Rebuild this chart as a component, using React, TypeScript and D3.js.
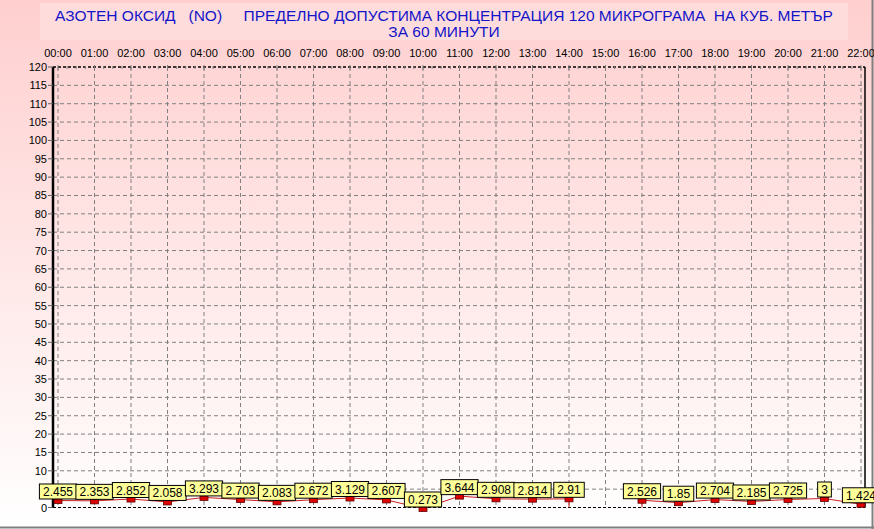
import React from "react";
import * as d3 from "d3";

const hours: number[] = [0, 1, 2, 3, 4, 5, 6, 7, 8, 9, 10, 11, 12, 13, 14, 15, 16, 17, 18, 19, 20, 21, 22];
const hourLabels: string[] = ["00:00","01:00","02:00","03:00","04:00","05:00","06:00","07:00","08:00","09:00","10:00","11:00","12:00","13:00","14:00","15:00","16:00","17:00","18:00","19:00","20:00","21:00","22:00"];
const values: (number | null)[] = [2.455, 2.353, 2.852, 2.058, 3.293, 2.703, 2.083, 2.672, 3.129, 2.607, 0.273, 3.644, 2.908, 2.814, 2.91, null, 2.526, 1.85, 2.704, 2.185, 2.725, 3, 1.424];
const valueLabels: string[] = ["2.455","2.353","2.852","2.058","3.293","2.703","2.083","2.672","3.129","2.607","0.273","3.644","2.908","2.814","2.91","","2.526","1.85","2.704","2.185","2.725","3","1.424"];
const yTicks: number[] = d3.range(0, 121, 5);
const titleLine1 = "АЗОТЕН ОКСИД   (NO)     ПРЕДЕЛНО ДОПУСТИМА КОНЦЕНТРАЦИЯ 120 МИКРОГРАМА  НА КУБ. МЕТЪР";
const titleLine2 = "ЗА 60 МИНУТИ";

const W = 874, H = 529;
const L = 53, R = 865, T = 67, B = 507.5;

function textWidth(s: string) {
  return s.length * 6.7 - (s.split(".").length - 1) * 3.3;
}

export default function App() {
  const x = d3.scaleLinear().domain([0, 22]).range([58, 861]);
  const y = d3.scaleLinear().domain([0, 120]).range([B, T]);
  const pts = hours.map((h, i) => ({ h, v: values[i], lab: valueLabels[i] }));
  const line = d3.line<{ h: number; v: number | null }>()
    .defined(d => d.v !== null)
    .x(d => x(d.h))
    .y(d => y(d.v as number) + 2);
  const minor = d3.range(0, 22.01, 0.25).filter(m => Math.abs(m - Math.round(m)) > 0.01);
  const font = "Arial, 'Liberation Sans', sans-serif";
  return (
    <div style={{ position: "fixed", left: 0, top: 0 }}>
      <svg width={W} height={H} style={{ display: "block" }}>
        <defs>
          <linearGradient id="bg" x1="0" y1="0" x2="0" y2="1">
            <stop offset="0" stopColor="#ffcfcf" />
            <stop offset="1" stopColor="#ffffff" />
          </linearGradient>
        </defs>
        <rect x={0} y={0} width={W} height={H} fill="url(#bg)" />
        <line x1={0} x2={W} y1={H - 1.5} y2={H - 1.5} stroke="#808080" strokeWidth={2} />
        <line x1={W - 1.5} x2={W - 1.5} y1={0} y2={H} stroke="#808080" strokeWidth={2} />
        {/* title */}
        <rect x={40} y={3} width={808} height={37} fill="#ffdcdc" />
        <text x={444} y={21} textAnchor="middle" fontFamily={font} fontSize={15.5} fill="#1414c8" style={{ whiteSpace: "pre" }}>{titleLine1}</text>
        <text x={444} y={37} textAnchor="middle" fontFamily={font} fontSize={15.5} fill="#1414c8">{titleLine2}</text>
        {/* top labels */}
        {hours.map((h, i) => (
          <text key={"xl" + h} x={x(h)} y={57} textAnchor="middle" fontFamily={font} fontSize={11} fill="#000">{hourLabels[i]}</text>
        ))}
        {/* grid */}
        {yTicks.filter(t => t > 0 && t < 120).map(t => (
          <line key={"gy" + t} x1={L} x2={R} y1={y(t)} y2={y(t)} stroke="#808080" strokeDasharray="4,3" />
        ))}
        {hours.map(h => (
          <line key={"gx" + h} x1={x(h)} x2={x(h)} y1={T} y2={B} stroke="#808080" strokeDasharray="4,3" />
        ))}
        {/* borders */}
        <line x1={L} x2={R} y1={T} y2={T} stroke="#000" strokeDasharray="3,2" strokeWidth={1.5} />
        <line x1={L} x2={R} y1={B} y2={B} stroke="#000" strokeDasharray="3,2" />
        <line x1={R} x2={R} y1={T} y2={B} stroke="#000" strokeWidth={1.5} />
        <line x1={L} x2={L} y1={T} y2={B} stroke="#000" strokeWidth={2.5} />
        {minor.map(m => (
          <line key={"mt" + m} x1={x(m)} x2={x(m)} y1={T - 1} y2={T + 2} stroke="#808080" />
        ))}
        {hours.map(h => (
          <line key={"mj" + h} x1={x(h)} x2={x(h)} y1={T - 2} y2={T + 3} stroke="#808080" />
        ))}
        {yTicks.map(t => (
          <g key={"yt" + t}>
            <line x1={L - 5} x2={L} y1={y(t)} y2={y(t)} stroke="#606060" />
            <text x={47} y={y(t) + 4} textAnchor="end" fontFamily={font} fontSize={11} fill="#000">{t}</text>
          </g>
        ))}
        {/* series line */}
        <path d={line(pts) || ""} fill="none" stroke="#cc2020" strokeWidth={1} />
        {pts.map((p, i) => {
          const prev = pts[i - 1], next = pts[i + 1];
          if (p.v !== null && ((next && next.v === null) || (prev && prev.v === null))) {
            return <line key={"drop" + i} x1={x(p.h)} x2={x(p.h)} y1={y(p.v) + 2} y2={B} stroke="#cc2020" />;
          }
          return null;
        })}
        {pts.filter(p => p.v !== null).map(p => (
          <rect key={"m" + p.h} x={x(p.h) - 4} y={y(p.v as number) + 0.5} width={8} height={4.5} fill="#dd0000" stroke="#600000" strokeWidth={0.8} />
        ))}
        {pts.filter(p => p.v !== null).map(p => {
          const w = textWidth(p.lab) + 7;
          const yb = y(p.v as number) + 0.5;
          return (
            <g key={"lb" + p.h}>
              <rect x={x(p.h) - w / 2} y={yb - 15} width={w} height={15} fill="#ffff99" stroke="#000" strokeWidth={1} />
              <text x={x(p.h)} y={yb - 3} textAnchor="middle" fontFamily={font} fontSize={12} fill="#000">{p.lab}</text>
            </g>
          );
        })}
      </svg>
    </div>
  );
}
